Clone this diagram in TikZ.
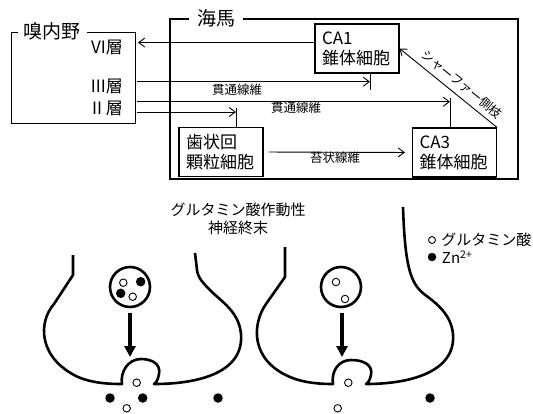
\documentclass[tikz,border=0pt]{standalone}
\usepackage{fontspec}
\setmainfont{Noto Sans CJK JP}
\usetikzlibrary{arrows.meta,positioning,calc}

\begin{document}
\begin{tikzpicture}[x=1pt, y=-1pt,
    cellbox/.style={draw, line width=1.1pt, minimum width=84pt, minimum height=49pt, text width=70pt, align=left, inner ysep=1pt, font=\fontsize{17}{20}\selectfont},
    areatitle/.style={fill=white, inner xsep=8pt, inner ysep=1pt, font=\fontsize{19}{22}\selectfont},
    layerlabel/.style={anchor=east, inner sep=0pt, font=\fontsize{17}{20}\selectfont},
    fiberlabel/.style={inner sep=1pt, font=\fontsize{12.5}{15}\selectfont},
    fiber/.style={line width=0.9pt, -{Straight Barb[length=6pt,width=9pt]}},
    stub/.style={line width=0.9pt},
    membrane/.style={line width=2.6pt, line join=round},
    release/.style={line width=3.5pt, -{Triangle[length=11pt,width=11pt]}},
    vesicle/.style={circle, draw, line width=2.6pt, minimum size=40pt, inner sep=0pt},
    glu/.style={circle, draw, line width=0.9pt, fill=white, inner sep=0pt, minimum size=7.5pt},
    zn/.style={circle, fill=black, inner sep=0pt, minimum size=9.5pt}
]
    \useasboundingbox (0,0) rectangle (533,413);

    % entorhinal cortex and hippocampus frames
    \draw[line width=1pt] (135,32) rectangle (11,123);
    \node[areatitle, inner xsep=6pt] (ec) at (52,31) {嗅内野};
    \draw[line width=1.6pt] (170,19) rectangle (518,179);
    \node[areatitle] (hip) at (216,18) {海馬};

    % layers
    \node[layerlabel] (l6) at (123,47) {VI層};
    \node[layerlabel] (l3) at (123,86) {III層};
    \node[layerlabel] (l2) at (123,108) {II 層};

    % cells
    \node[cellbox] (CA1) at (357,48.5) {CA1\\錐体細胞};
    \node[cellbox] (CA3) at (454.5,152.5) {CA3\\錐体細胞};
    \node[cellbox] (DG) at (221,152) {歯状回\\顆粒細胞};

    % fibre ends
    \coordinate (s6) at (138,42.5);
    \coordinate (s3) at (137,81.7);
    \coordinate (s2a) at (137,101.7);
    \coordinate (s2b) at (137,112);
    \coordinate (t1) at (370,90);
    \coordinate (t3) at (450,98);
    \coordinate (tg) at (236,108);

    \draw[fiber] (CA1.west |- s6) -- (s6);
    \draw[stub] (CA1.south -| t1) -- (t1);
    \draw[fiber] (s3) -- (s3 -| t1);
    \draw[stub] (CA3.north -| t3) -- (t3);
    \draw[fiber] (s2a) -- (s2a -| t3);
    \draw[stub] (DG.north -| tg) -- (tg);
    \draw[fiber] (s2b) -- (s2b -| tg);
    \draw[fiber, shorten <=5pt, shorten >=7pt] (DG.east) -- (CA3.west);
    \draw[fiber] (CA3.north east) -- (CA1.east);

    \node[fiberlabel] (pp1) at (237,90) {貫通線維};
    \node[fiberlabel] (pp2) at (296,108) {貫通線維};
    \node[fiberlabel] (mf) at (335,158) {苔状線維};
    \node[fiberlabel, rotate=-39] (sc) at (462,84) {シャーファー側枝};

    % synapse part
    \node[align=center, font=\fontsize{15}{18}\selectfont] (term) at (238,219) {グルタミン酸作動性\\神経終末};

    \node[glu, minimum size=7pt] (lg) at (432,240) {};
    \node[anchor=west, xshift=2pt, font=\fontsize{15}{18}\selectfont] (lgt) at (lg.east) {グルタミン酸};
    \node[zn, minimum size=8.5pt] (lz) at (432,257) {};
    \node[anchor=west, xshift=2pt, font=\fontsize{15}{18}\selectfont] (lzt) at (lz.east) {Zn\textsuperscript{2+}};

    % left terminal
    \draw[membrane] (73,255) -- (73,275) -- (54,304)
        .. controls (38,322) and (38,358) .. (78,377)
        .. controls (92,383) and (108,384) .. (122,384)
        .. controls (120,372) and (128,359) .. (141,359)
        .. controls (152,359) and (161,364) .. (159,374)
        .. controls (158,380) and (156,383) .. (154,384)
        .. controls (200,384) and (244,372) .. (241,334)
        .. controls (239,312) and (222,302) .. (211,291)
        .. controls (203,283) and (198,278) .. (197,270) -- (195,253);
    \node[vesicle] (v1) at (130,287) {};
    \node[glu] (g1) at (123.3,282.7) {};
    \node[zn] (z1) at (140.7,281.7) {};
    \node[zn] (z2) at (120.7,293.3) {};
    \node[glu] (g2) at (132.7,296.7) {};
    \coordinate (f1) at (130,357);
    \draw[release, shorten <=5pt] (v1) -- (f1);
    \node[glu] (g3) at (136.7,382.7) {};
    \node[zn] (z3) at (110,398) {};
    \node[zn] (z4) at (142.7,398) {};
    \node[glu] (g4) at (126.7,408.3) {};
    \node[zn] (z5) at (218,398) {};

    % right terminal
    \draw[membrane] (285,247) -- (285,277) -- (266,304)
        .. controls (252,324) and (250,360) .. (290,377)
        .. controls (304,383) and (320,384) .. (333,384)
        .. controls (331,372) and (338,360) .. (351,360)
        .. controls (364,360) and (373,365) .. (371,375)
        .. controls (370,380) and (368,383) .. (366,384)
        .. controls (410,384) and (456,372) .. (453,334)
        .. controls (451,314) and (436,303) .. (424,294)
        .. controls (410,283) and (405,265) .. (403,207);
    \node[vesicle] (v2) at (341,287) {};
    \node[glu] (g5) at (336,282) {};
    \node[glu] (g6) at (345,299) {};
    \coordinate (f2) at (342,357);
    \draw[release, shorten <=5pt] (v2.south -| f2) -- (f2);
    \node[glu] (g7) at (348.3,382.7) {};
    \node[glu] (g8) at (337.7,408.3) {};
    \node[zn] (z6) at (430,398) {};
\end{tikzpicture}
\end{document}
